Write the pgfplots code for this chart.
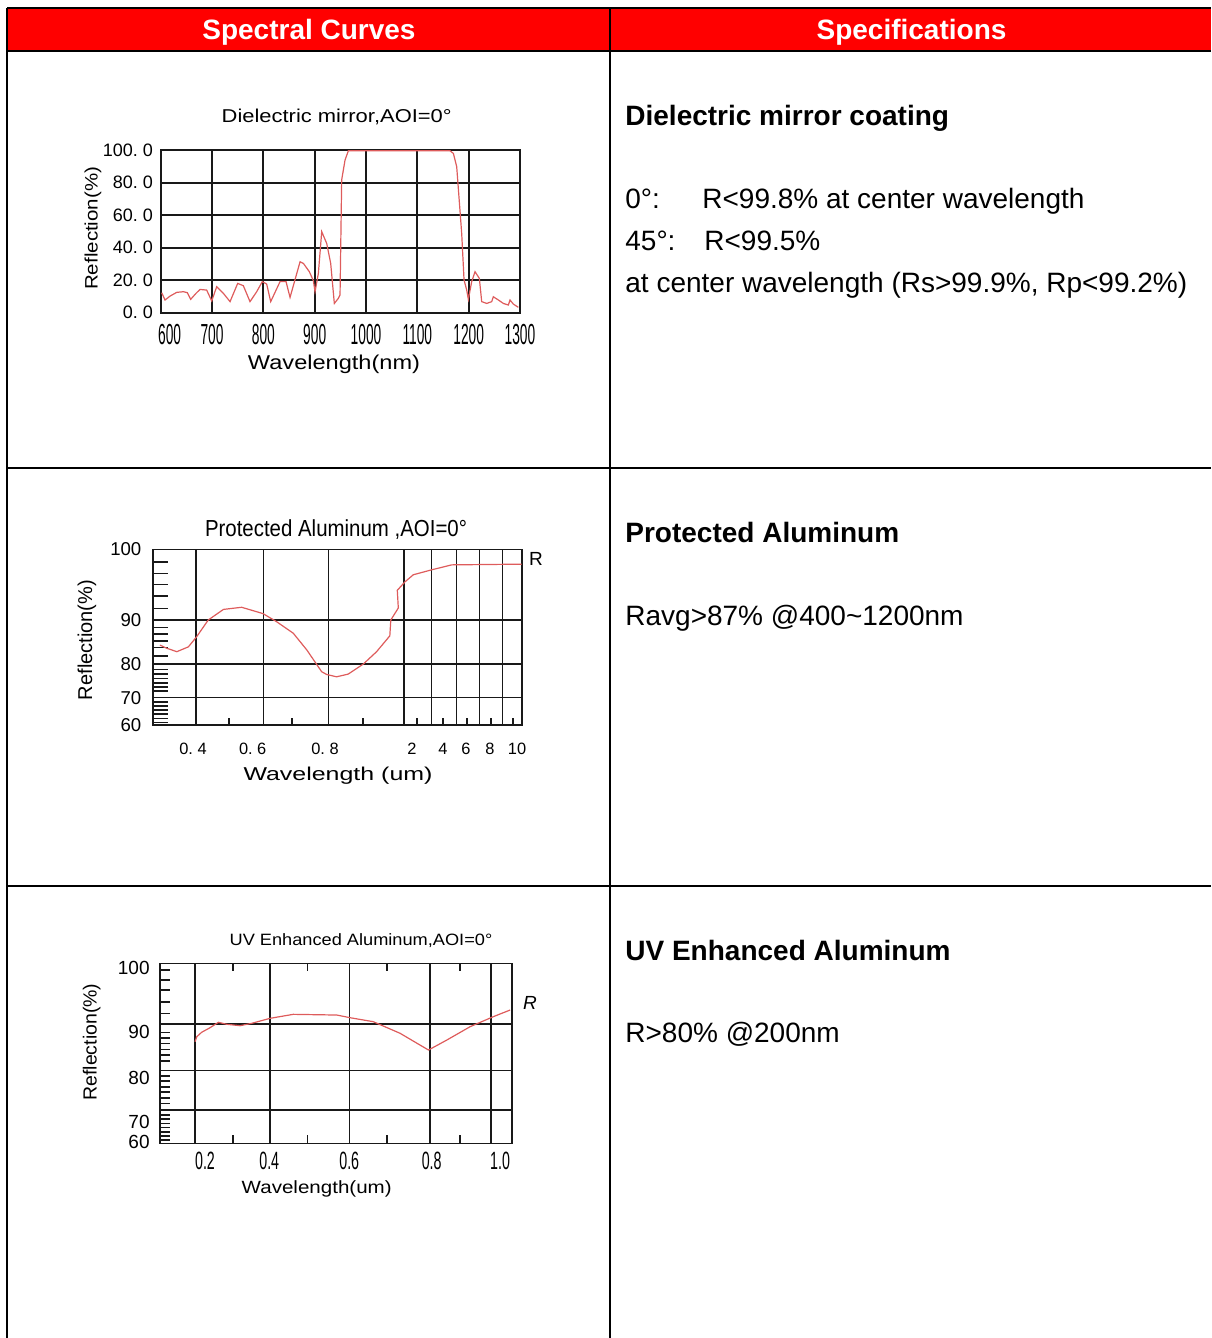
\documentclass[border=0pt]{standalone}
\usepackage{pgfplots}
\pgfplotsset{compat=1.18}
\usepackage{pgfplotstable}
\usepackage{fontspec}
\setmainfont{Liberation Sans}
\setsansfont{Liberation Sans}
\usepackage{graphicx}
\definecolor{hdrred}{RGB}{255,0,0}
\definecolor{curvered}{RGB}{222,92,92}
\definecolor{gridblk}{RGB}{25,25,25}
\newcommand\rt[3]{\resizebox{#1}{\height}{\fontsize{#2}{#2}\selectfont #3}}
\newcommand\fs[1]{\fontsize{#1}{#1}\selectfont}

% Dielectric mirror, AOI=0 (wavelength nm, reflection %)
\pgfplotstableread{
wl R
601.9 12.3
608.4 7.8
618.2 10.2
631.2 12.5
644.2 12.9
652.0 12.3
658.4 8.2
668.8 11.9
676.6 14.3
689.6 13.9
699.4 7.2
709.1 16.0
722.1 11.9
735.1 6.8
750.0 18.0
761.0 16.6
774.0 6.8
787.0 12.9
798.0 19.1
806.5 17.6
814.3 6.8
832.5 19.1
844.2 19.1
852.0 9.4
871.5 31.3
878.0 30.3
889.6 25.2
897.4 19.7
900.7 12.9
907.2 24.2
913.7 49.8
923.4 42.6
931.2 30.3
938.3 5.7
946.1 8.8
949.4 10.9
952.6 81.6
959.1 93.8
965.6 99.5
1163.7 99.5
1170.2 97.9
1176.7 89.7
1186.4 48.8
1191.0 20.1
1196.2 13.9
1199.4 8.2
1205.9 19.1
1212.4 25.2
1220.8 21.1
1225.4 6.8
1235.1 5.7
1244.9 6.8
1248.1 9.8
1257.9 7.8
1267.6 5.7
1277.3 4.7
1280.6 7.8
1287.1 5.3
1296.8 3.3
}\tabA

% Protected aluminum (wavelength um, reflection %)
\pgfplotstableread{
um R
0.291 84.3
0.311 83.6
0.342 82.8
0.377 83.9
0.402 86.2
0.437 90.0
0.483 91.5
0.538 91.8
0.603 90.9
0.644 89.6
0.694 87.0
0.735 83.2
0.780 77.7
0.795 76.9
0.825 76.2
0.860 77.0
0.906 80.0
0.946 82.8
0.986 86.4
0.989 90.0
1.171 91.7
1.126 94.2
1.468 95.4
1.836 96.4
3.13 97.1
4.73 97.8
10.56 97.9
}\tabB

% UV enhanced aluminum (wavelength um, reflection %)
\pgfplotstableread{
um R
0.2125 87.85
0.217 88.93
0.229 89.87
0.250 90.63
0.271 91.48
0.292 91.17
0.325 90.95
0.354 91.32
0.400 92.11
0.458 92.74
0.567 92.63
0.600 92.21
0.658 91.58
0.725 89.66
0.796 86.07
0.842 88.22
0.900 90.79
0.958 92.37
1.000 93.42
}\tabC

\begin{document}
\begin{tikzpicture}
\begin{scope}[x=0.5pt,y=-0.5pt]
\useasboundingbox (0,0) rectangle (1211,1338);
% table frame
\fill[hdrred] (7,8) rectangle (1211,51);
\draw[black, line width=1pt] (7,8) -- (1211,8);
\draw[black, line width=1pt] (7,51) -- (1211,51);
\draw[black, line width=1pt] (7,8) -- (7,1338);
\draw[black, line width=1pt] (610,8) -- (610,1338);
\draw[black, line width=1pt] (7,468) -- (1211,468);
\draw[black, line width=1pt] (7,886) -- (1211,886);
% header
\node[anchor=base, inner sep=0pt, text=white, font=\bfseries\fs{14}] at (309,40) {Spectral Curves};
\node[anchor=base, inner sep=0pt, text=white, font=\bfseries\fs{14}] at (911.5,40) {Specifications};
% specifications
\node[anchor=base west, inner sep=0pt, font=\bfseries\fs{14}] at (625,126) {Dielectric mirror coating};
\node[anchor=base west, inner sep=0pt, font=\fs{14}] at (625,208) {0°:};
\node[anchor=base west, inner sep=0pt, font=\fs{14}] at (702,208) {R<99.8\% at center wavelength};
\node[anchor=base west, inner sep=0pt, font=\fs{14}] at (625,250) {45°:};
\node[anchor=base west, inner sep=0pt, font=\fs{14}] at (704,250) {R<99.5\%};
\node[anchor=base west, inner sep=0pt, font=\fs{14}] at (625,292) {at center wavelength (Rs>99.9\%, Rp<99.2\%)};
\node[anchor=base west, inner sep=0pt, font=\bfseries\fs{14}] at (625,542) {Protected Aluminum};
\node[anchor=base west, inner sep=0pt, font=\fs{14}] at (625,625) {Ravg>87\% @400\textasciitilde1200nm};
\node[anchor=base west, inner sep=0pt, font=\bfseries\fs{14}] at (625,960) {UV Enhanced Aluminum};
\node[anchor=base west, inner sep=0pt, font=\fs{14}] at (625,1042) {R>80\% @200nm};
% chart 1 texts
\node[anchor=base, inner sep=0pt] at (336.7,123) {\rt{115pt}{9.3}{Dielectric mirror,AOI=0°}};
\node[anchor=base, inner sep=0pt] at (334,369.5) {\rt{86pt}{10}{Wavelength(nm)}};
\node[anchor=base, inner sep=0pt, rotate=90] at (97.5,228.3) {\rt{61.5pt}{9}{Reflection(\%)}};
% chart 2 texts
\node[anchor=base, inner sep=0pt] at (336,536.5) {\rt{131pt}{11.6}{Protected Aluminum ,AOI=0°}};
\node[anchor=base, inner sep=0pt] at (338,780) {\rt{94.5pt}{9.3}{Wavelength (um)}};
\node[anchor=base, inner sep=0pt, rotate=90] at (92,640) {\rt{60pt}{10}{Reflection(\%)}};
\node[anchor=base, inner sep=0pt, font=\fs{9.5}] at (536,565) {R};
% chart 3 texts
\node[anchor=base, inner sep=0pt] at (361,945) {\rt{131.35pt}{8.2}{UV Enhanced Aluminum,AOI=0°}};
\node[anchor=base, inner sep=0pt] at (316.7,1193) {\rt{75pt}{8.85}{Wavelength(um)}};
\node[anchor=base, inner sep=0pt, rotate=90] at (96.5,1042) {\rt{58.5pt}{9.5}{Reflection(\%)}};
\node[anchor=base, inner sep=0pt, font=\itshape\fs{9.5}] at (530,1009) {R};
\end{scope}

% ---------- chart 1 ----------
\begin{axis}[
  at={(80.35pt,-156.35pt)}, anchor=south west,
  scale only axis, width=179.65pt, height=81.35pt,
  xmin=600, xmax=1300, ymin=0, ymax=100,
  xtick={600,700,800,900,1000,1100,1200,1300},
  xticklabels={\hspace*{18.75pt}600,700,800,900,1000,1100,1200,1300},
  ytick={0,20,40,60,80,100},
  yticklabels={0.\ 0,20.\ 0,40.\ 0,60.\ 0,80.\ 0,100.\ 0},
  grid=major, major grid style={gridblk, line width=1pt},
  axis line style={gridblk, line width=1pt},
  major tick length=0pt,
  xticklabel style={font=\fs{14.5}, xscale=0.475, anchor=center, yshift=-11.15pt, inner sep=0pt},
  yticklabel style={font=\fs{9}, anchor=east, xshift=-3.7pt, inner sep=0pt},
]
\addplot[curvered, line width=0.6pt] table[x=wl, y=R] {\tabA};
\end{axis}

% ---------- chart 2 ----------
\begin{axis}[
  at={(76.35pt,-362.5pt)}, anchor=south west,
  scale only axis, width=184.5pt, height=87.85pt,
  xmin=0, xmax=369, ymin=0, ymax=175.7,
  axis line style={gridblk, line width=0.8pt},
  tick style={gridblk, line width=0.8pt},
  xtick={40.3,100,172.3,259.3,290.3,313.3,337.3,364.3},
  xticklabels={0.\ 4,0.\ 6,0.\ 8,2,4,6,8,10},
  minor xtick={43.3,110.6,175.6,251.3,279,304,326.6,349.6},
  ytick={0,27.3,61,105,175.7},
  yticklabels={60,70,80,90,100},
  minor ytick={27.3,61,105},
  xminorgrids=true, yminorgrids=true,
  minor grid style={gridblk, line width=0.75pt},
  major tick length=0pt, minor tick length=0pt,
  extra x ticks={76.3,139.3,210.3,264.3,290.3,314.3,338.3,360.3},
  extra x tick labels={},
  extra x tick style={major tick length=3.5pt},
  extra y ticks={163.3,151.7,140.7,129,116.7,97.7,91,84.3,77.7,69,55.7,51,46.7,42.3,38.3,34.3,23.3,19.3,15,11,6.7,2.7},
  extra y tick labels={},
  extra y tick style={major tick length=7.85pt},
  xtick pos=left, ytick pos=left, tick align=inside,
  xticklabel style={font=\fs{8.2}, anchor=center, yshift=-12pt, inner sep=0pt},
  yticklabel style={font=\fs{9.3}, anchor=east, xshift=-5.5pt, inner sep=0pt},
]
\addplot[curvered, line width=0.6pt] table[
  x expr={330.75*(min(\thisrow{um},1)-0.4)+43.3+22.55*(max(min(\thisrow{um},2),1)-1)+13*(max(min(\thisrow{um},4),2)-2)+12*(max(\thisrow{um},4)-4)},
  y expr={2.73*(min(\thisrow{R},70)-60)+3.37*(max(min(\thisrow{R},80),70)-70)+4.4*(max(min(\thisrow{R},90),80)-80)+7.07*(max(\thisrow{R},90)-90)}
] {\tabB};
\end{axis}

% ---------- chart 3 ----------
\begin{axis}[
  at={(80pt,-571.65pt)}, anchor=south west,
  scale only axis, width=175.85pt, height=90pt,
  xmin=0.125, xmax=1.004, ymin=0, ymax=180,
  axis line style={gridblk, line width=0.8pt},
  tick style={gridblk, line width=0.8pt},
  xtick={0.2375,0.398,0.598,0.804,0.975},
  xticklabels={0.2,0.4,0.6,0.8,1.0},
  minor xtick={0.2125,0.4,0.598,0.8,0.952},
  ytick={1,21.6,65,111.6,175},
  yticklabels={60,70,80,90,100},
  minor ytick={33.3,72.6,119.3},
  xminorgrids=true, yminorgrids=true,
  minor grid style={gridblk, line width=0.75pt},
  major tick length=0pt, minor tick length=0pt,
  extra x ticks={0.308,0.494,0.692,0.875},
  extra x tick labels={},
  extra x tick style={major tick length=4pt},
  extra y ticks={173.3,163.3,153.3,141.6,130,111,105.6,100,94,88.3,82.3,67.6,62.3,56.6,51.6,45.6,40,28.3,24.3,20,16,11.6,7.3,3.3},
  extra y tick labels={},
  extra y tick style={major tick length=5pt},
  xtick pos=both, ytick pos=left, tick align=inside,
  xticklabel style={font=\fs{12.5}, xscale=0.57, anchor=center, yshift=-8.7pt, inner sep=0pt},
  yticklabel style={font=\fs{9.5}, anchor=east, xshift=-5pt, inner sep=0pt},
]
\addplot[curvered, line width=0.6pt] table[
  x=um,
  y expr={5+1.66*(min(\thisrow{R},70)-60)+4.34*(max(min(\thisrow{R},80),70)-70)+4.66*(max(min(\thisrow{R},90),80)-80)+6.34*(max(\thisrow{R},90)-90)}
] {\tabC};
\end{axis}
\end{tikzpicture}
\end{document}
